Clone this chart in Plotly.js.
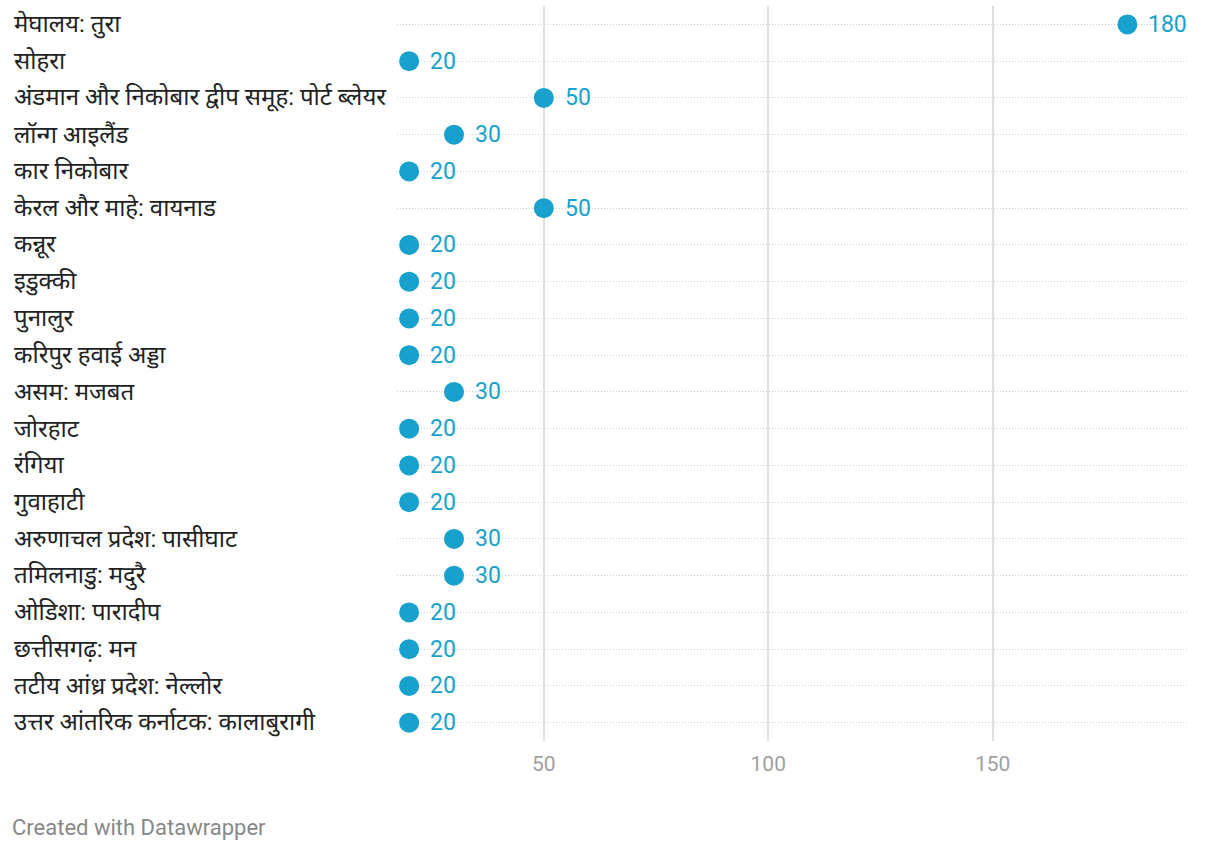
<!DOCTYPE html>
<html>
<head>
<meta charset="utf-8">
<script src="https://cdn.plot.ly/plotly-3.0.1.min.js"></script>
<style>
  html, body { margin: 0; padding: 0; background: #fff; }
  #chart { width: 1220px; height: 850px; }
</style>
</head>
<body>
<div id="chart"></div>
<script>
const categories = [
  "मेघालय: तुरा",
  "सोहरा",
  "अंडमान और निकोबार द्वीप समूह: पोर्ट ब्लेयर",
  "लॉन्ग आइलैंड",
  "कार निकोबार",
  "केरल और माहे: वायनाड",
  "कन्नूर",
  "इडुक्की",
  "पुनालुर",
  "करिपुर हवाई अड्डा",
  "असम: मजबत",
  "जोरहाट",
  "रंगिया",
  "गुवाहाटी",
  "अरुणाचल प्रदेश: पासीघाट",
  "तमिलनाडु: मदुरै",
  "ओडिशा: पारादीप",
  "छत्तीसगढ़: मन",
  "तटीय आंध्र प्रदेश: नेल्लोर",
  "उत्तर आंतरिक कर्नाटक: कालाबुरागी"
];
const values = [180, 20, 50, 30, 20, 50, 20, 20, 20, 20, 30, 20, 20, 20, 30, 30, 20, 20, 20, 20];
const tickValues = [50, 100, 150];
const tickLabels = ["50", "100", "150"];
const footerText = "Created with Datawrapper";

const dotColor = "#18a1cd";
const plotLeft = 397, plotRight = 1188, plotTop = 6, plotBottom = 741;
const plotW = plotRight - plotLeft, plotH = plotBottom - plotTop;
const labelPaperX = (12 - plotLeft) / plotW;

const trace = {
  type: "scatter",
  mode: "markers",
  x: values,
  y: categories,
  marker: { size: 20, color: dotColor },
  cliponaxis: false,
  hoverinfo: "skip"
};

const annotations = categories.map(c => ({
  xref: "paper", yref: "y",
  x: labelPaperX, y: c,
  xanchor: "left", yanchor: "middle",
  text: c, showarrow: false,
  font: { family: "Roboto, 'Noto Sans', sans-serif", size: 24, color: "#222222" }
}));
values.forEach((v, i) => annotations.push({
  xref: "x", yref: "y",
  x: v, y: categories[i],
  xanchor: "left", yanchor: "middle",
  xshift: 19, yshift: 0,
  text: String(v), showarrow: false,
  font: { family: "Roboto, sans-serif", size: 23, color: dotColor }
}));
annotations.push({
  xref: "paper", yref: "paper",
  x: (10 - plotLeft) / plotW,
  y: (plotBottom - 827) / plotH,
  xanchor: "left", yanchor: "middle",
  text: footerText, showarrow: false,
  font: { family: "Roboto, sans-serif", size: 22, color: "#888888" }
});

const layout = {
  width: 1220, height: 850,
  margin: { l: plotLeft, r: 1220 - plotRight, t: plotTop, b: 850 - plotBottom, pad: 0 },
  paper_bgcolor: "#ffffff",
  plot_bgcolor: "#ffffff",
  showlegend: false,
  xaxis: {
    range: [17.3, 193.5],
    tickvals: tickValues,
    ticktext: tickLabels,
    showgrid: true,
    gridcolor: "#e0e0e0",
    gridwidth: 2,
    zeroline: false,
    showline: false,
    ticks: "",
    tickfont: { family: "Roboto, sans-serif", size: 21, color: "#a0a0a0" },
    ticklabelstandoff: 8,
    fixedrange: true
  },
  yaxis: {
    type: "category",
    categoryorder: "array",
    categoryarray: categories,
    range: [categories.length - 0.5, -0.5],
    showticklabels: false,
    showgrid: true,
    gridcolor: "#cfcfcf",
    griddash: "1px,2px",
    gridwidth: 1,
    zeroline: false,
    showline: false,
    ticks: "",
    fixedrange: true
  },
  annotations: annotations
};

Plotly.newPlot("chart", [trace], layout, { displayModeBar: false, staticPlot: true });
</script>
</body>
</html>
